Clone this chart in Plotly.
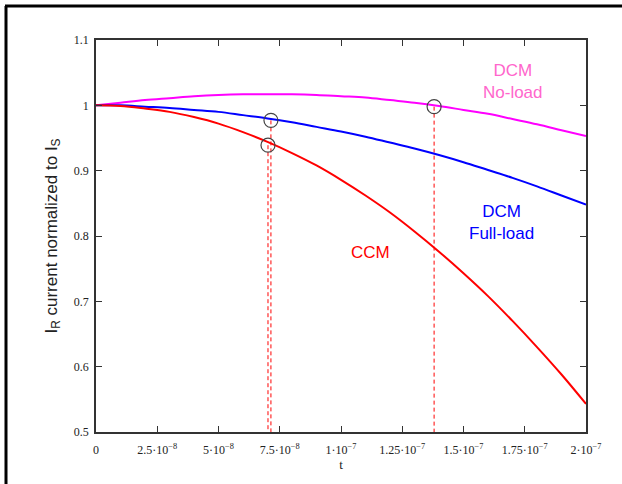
import plotly.graph_objects as go

# time in units of 1e-8 s
t_units = list(range(0, 21))
t = [k * 1e-8 for k in t_units]

dcm_noload = [1.000, 1.004, 1.008, 1.011, 1.014, 1.016, 1.017, 1.017, 1.017, 1.016,
              1.014, 1.012, 1.008, 1.004, 0.999, 0.993, 0.987, 0.979, 0.971, 0.962, 0.953]
dcm_fullload = [1.000, 1.000, 0.998, 0.996, 0.993, 0.990, 0.985, 0.980, 0.974, 0.967,
                0.960, 0.952, 0.943, 0.934, 0.924, 0.913, 0.901, 0.889, 0.876, 0.862, 0.848]
ccm = [1.000, 0.999, 0.995, 0.990, 0.982, 0.972, 0.959, 0.944, 0.927, 0.908,
       0.886, 0.862, 0.836, 0.807, 0.776, 0.743, 0.708, 0.670, 0.630, 0.588, 0.543]

# marked points (circles + dashed drop lines)
mark_t = [7.02e-8, 7.14e-8, 1.38e-7]
mark_v = [0.939, 0.977, 0.998]

xtick_vals = [0, 2.5e-8, 5e-8, 7.5e-8, 1e-7, 1.25e-7, 1.5e-7, 1.75e-7, 2e-7]
xtick_text = ["0", "2.5·10<sup>−8</sup>", "5·10<sup>−8</sup>", "7.5·10<sup>−8</sup>",
              "1·10<sup>−7</sup>", "1.25·10<sup>−7</sup>", "1.5·10<sup>−7</sup>",
              "1.75·10<sup>−7</sup>", "2·10<sup>−7</sup>"]
ytick_vals = [0.5, 0.6, 0.7, 0.8, 0.9, 1.0, 1.1]
ytick_text = ["0.5", "0.6", "0.7", "0.8", "0.9", "1", "1.1"]

fig = go.Figure()

# dashed drop lines
for tx, v in zip(mark_t, mark_v):
    fig.add_trace(go.Scatter(x=[tx, tx], y=[v, 0.5], mode="lines",
                             line=dict(color="#ff0000", width=1, dash="4px,3px"),
                             showlegend=False, hoverinfo="skip"))

fig.add_trace(go.Scatter(x=t, y=dcm_noload, mode="lines", line=dict(color="#ff00ff", width=2, shape="spline"), showlegend=False))
fig.add_trace(go.Scatter(x=t, y=dcm_fullload, mode="lines", line=dict(color="#0000ff", width=2, shape="spline"), showlegend=False))
fig.add_trace(go.Scatter(x=t, y=ccm, mode="lines", line=dict(color="#ff0000", width=2, shape="spline"), showlegend=False))

fig.add_trace(go.Scatter(x=mark_t, y=mark_v, mode="markers",
                         marker=dict(symbol="circle-open", size=14, color="#444444", line=dict(width=1.2)),
                         showlegend=False, cliponaxis=False))

axis_common = dict(showline=True, linecolor="#333333", linewidth=1.5, mirror="ticks",
                   ticks="inside", ticklen=6, tickcolor="#333333", showgrid=False, zeroline=False,
                   tickfont=dict(family="Liberation Serif", size=12, color="#222222"))

fig.update_xaxes(range=[0, 2e-7], tickvals=xtick_vals, ticktext=xtick_text, ticklabelstandoff=6,
                 title=dict(text="t", font=dict(family="Liberation Serif", size=13, color="#222222"), standoff=4),
                 **axis_common)
fig.update_yaxes(range=[0.5, 1.1], tickvals=ytick_vals, ticktext=ytick_text, ticklabelstandoff=3,
                 title=dict(text="I<sub>R</sub> current normalized to I<sub>S</sub>",
                            font=dict(family="Liberation Sans", size=17, color="#222222"), standoff=12),
                 **axis_common)

ann_font = dict(family="Liberation Sans", size=17)
fig.add_annotation(x=1.7e-7, y=1.037, text="DCM<br>No-load", showarrow=False,
                   font=dict(color="#ff66cc", **ann_font), align="center")
fig.add_annotation(x=1.655e-7, y=0.82, text="DCM<br>Full-load", showarrow=False,
                   font=dict(color="#0000ff", **ann_font), align="center")
fig.add_annotation(x=1.12e-7, y=0.775, text="CCM", showarrow=False,
                   font=dict(color="#ff0000", **ann_font))

# outer frame lines (pixel positions converted to paper coords)
pw, ph = 490.0, 392.0
def px(x):
    return (x - 96) / pw
def py(y):
    return (432 - y) / ph

fig.add_shape(type="line", xref="paper", yref="paper", x0=px(5), x1=px(622), y0=py(6), y1=py(6),
              line=dict(color="black", width=3))
fig.add_shape(type="line", xref="paper", yref="paper", x0=px(6), x1=px(6), y0=py(6), y1=py(484),
              line=dict(color="black", width=3))

fig.update_layout(width=622, height=484, margin=dict(l=96, r=36, t=40, b=52),
                  paper_bgcolor="white", plot_bgcolor="white")

fig.write_html("out.html")
